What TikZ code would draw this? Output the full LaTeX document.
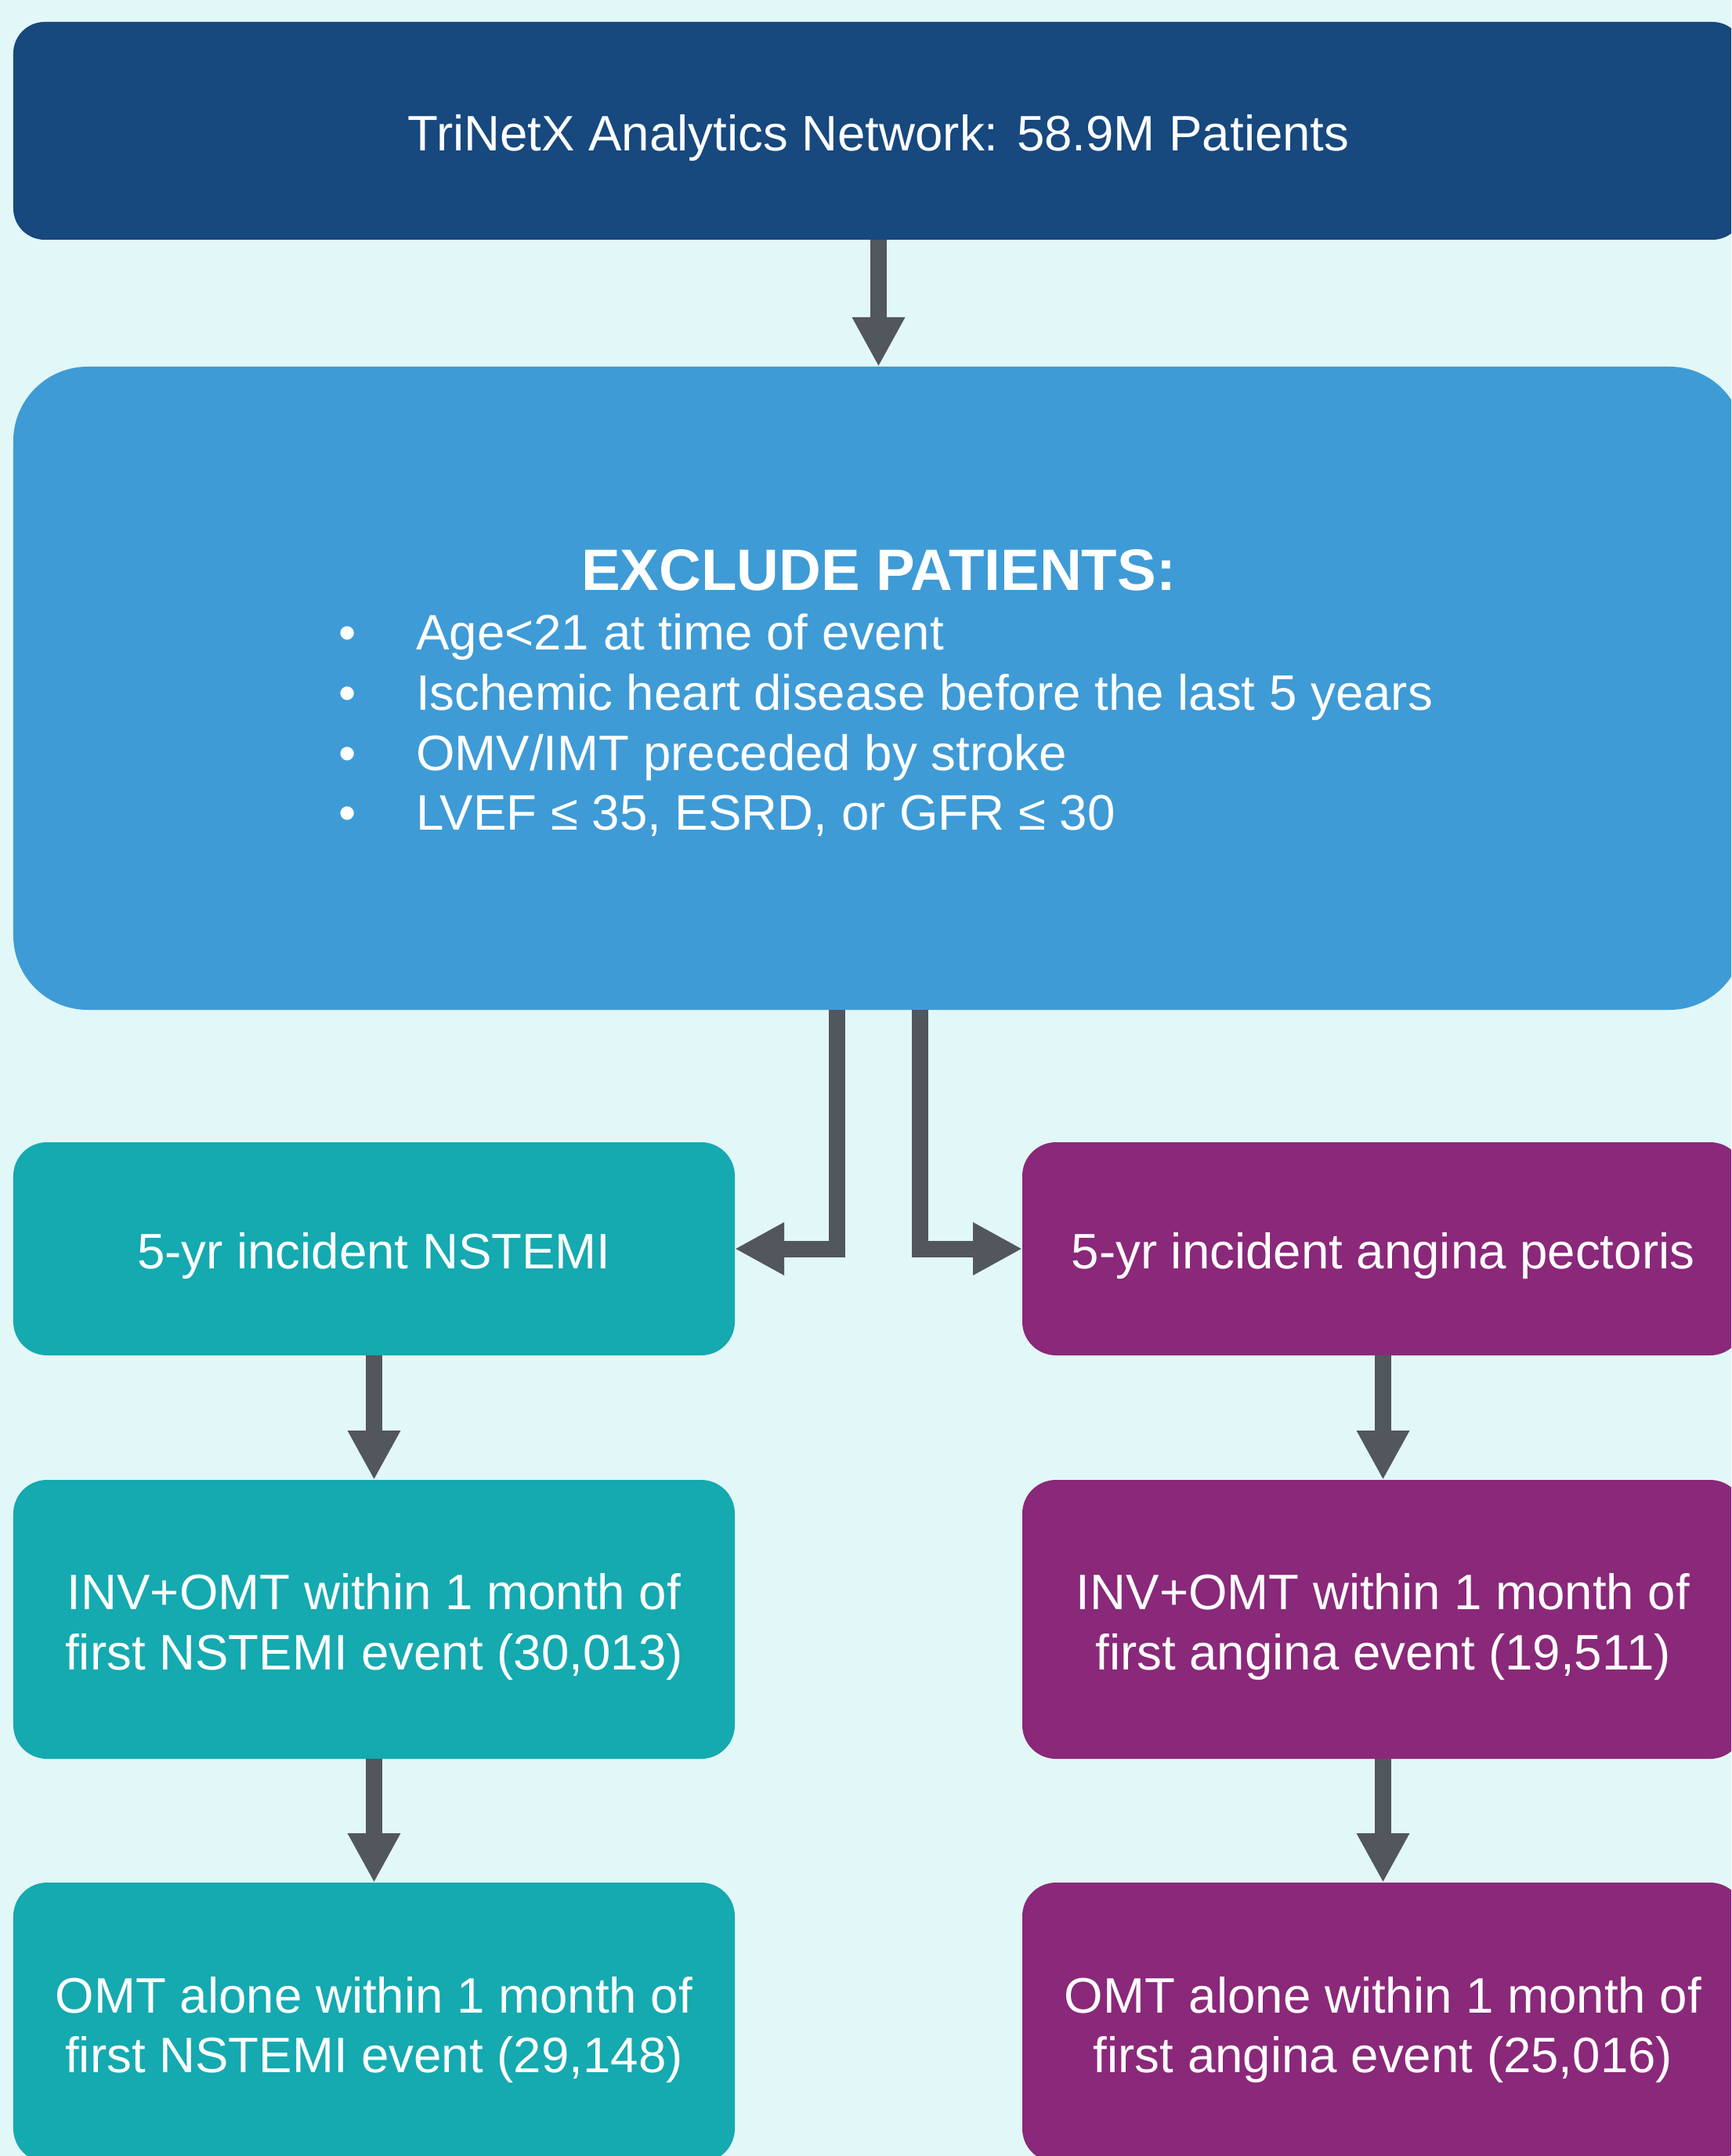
\documentclass[tikz,border=0pt]{standalone}
\usepackage{fontspec}
\setmainfont{Liberation Sans}
\usetikzlibrary{positioning,arrows.meta}

\definecolor{bgcyan}{HTML}{E2F7F7}
\definecolor{netblue}{HTML}{17487E}
\definecolor{exclblue}{HTML}{3E9BD6}
\definecolor{nstemiteal}{HTML}{15A9B0}
\definecolor{anginapurple}{HTML}{8A2879}
\definecolor{arrowgrey}{HTML}{52565D}
\newcommand{\topstrut}{\rule{0pt}{1.02em}}

\begin{document}
\begin{tikzpicture}[node distance=1.6cm,
    flowbox/.style={rectangle,inner sep=0pt,outer sep=0pt,text=white,align=center,font=\fontsize{18.1}{21.8}\selectfont,
        execute at begin node={\topstrut}},
    netbox/.style={flowbox,fill=netblue,rounded corners=0.4cm,minimum width=22.09cm,minimum height=2.78cm},
    exclbox/.style={flowbox,fill=exclblue,rounded corners=0.95cm,minimum width=22.09cm,minimum height=8.21cm},
    nstemibox/.style={flowbox,fill=nstemiteal,rounded corners=0.43cm,minimum width=9.21cm},
    anginabox/.style={flowbox,fill=anginapurple,rounded corners=0.43cm,minimum width=9.21cm},
    arrow/.style={draw=arrowgrey,line width=0.21cm,line join=miter,-{Triangle[length=0.63cm,width=0.63cm]}}]
    \useasboundingbox (0,0) rectangle (22.10,-27.52);
    \clip (0,0) rectangle (22.10,-27.52);
    \fill[bgcyan] (0,0) rectangle (22.10,-27.52);

    \node[netbox] (net) at (11.215,-1.67) {TriNetX Analytics Network: 58.9M Patients};
    \node[exclbox,below=1.62cm of net] (excl) {%
        \rule{0pt}{0.79cm}{\fontsize{21.2}{24}\selectfont\bfseries EXCLUDE PATIENTS:}\\[0pt]
        \hspace*{0.18cm}\begin{tabular}[t]{@{}l@{\hspace{0.77cm}}l@{}}
        \textbullet & Age<21 at time of event\\
        \textbullet & Ischemic heart disease before the last 5 years\\
        \textbullet & OMV/IMT preceded by stroke\\
        \textbullet & LVEF ≤ 35, ESRD, or GFR ≤ 30
        \end{tabular}};
    % NSTEMI column
    \node[nstemibox,minimum height=2.72cm,below right=1.69cm and 0cm of excl.south west] (nstemi) {5-yr incident NSTEMI};
    \node[nstemibox,minimum height=3.56cm,below=1.59cm of nstemi] (ninv) {\topstrut INV+OMT within 1 month of\\first NSTEMI event (30,013)};
    \node[nstemibox,minimum height=3.57cm,below=1.58cm of ninv] (nomt) {\topstrut OMT alone within 1 month of\\first NSTEMI event (29,148)};
    % angina column
    \node[anginabox,minimum height=2.72cm,below left=1.69cm and 0cm of excl.south east] (angina) {5-yr incident angina pectoris};
    \node[anginabox,minimum height=3.56cm,below=1.59cm of angina] (ainv) {\topstrut INV+OMT within 1 month of\\first angina event (19,511)};
    \node[anginabox,minimum height=3.57cm,below=1.58cm of ainv] (aomt) {\topstrut OMT alone within 1 month of\\first angina event (25,016)};

    \draw[arrow] (net) -- (excl);
    \draw[arrow] ([xshift=-0.53cm]excl.south) |- (nstemi.east);
    \draw[arrow] ([xshift=0.525cm]excl.south) |- (angina.west);
    \draw[arrow] (nstemi) -- (ninv);
    \draw[arrow] (ninv) -- (nomt);
    \draw[arrow] (angina) -- (ainv);
    \draw[arrow] (ainv) -- (aomt);
\end{tikzpicture}
\end{document}
